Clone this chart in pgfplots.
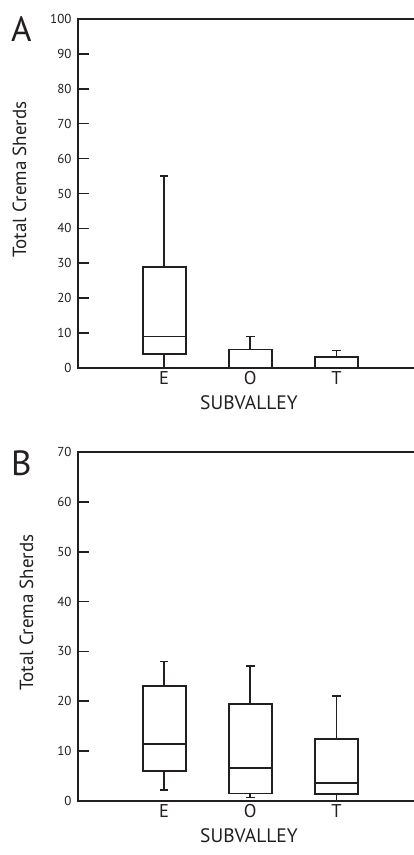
\documentclass[border=0pt]{standalone}
\usepackage{fontspec}
\setmainfont{PT Sans}
\usepackage{pgfplots}
\usepgfplotslibrary{statistics}
\pgfplotsset{compat=1.18}
\definecolor{ink}{RGB}{35,31,32}

\pgfplotsset{
  panel/.style={
    scale only axis, width=336pt, height=349pt,
    anchor=south west,
    xmin=0, xmax=3.9, ymin=0,
    axis line style={draw=none},
    clip=false,
    xtick={1,2,3}, xticklabels={E,O,T},
    xtick pos=bottom, ytick pos=left,
    x tick style={draw=none},
    y tick style={line width=1.6pt, ink},
    major tick length=11pt,
    tick align=inside,
    /pgf/number format/assume math mode=true,
    yticklabel style={font=\fontsize{13}{13}\selectfont, text=ink, xshift=-3pt},
    xticklabel style={font=\fontsize{18.5}{18.5}\selectfont, text=ink},
    xlabel={SUBVALLEY},
    ylabel={Total Crema Sherds},
    xlabel style={font=\fontsize{19.5}{19.5}\selectfont, text=ink, at={(ticklabel cs:0.509,4pt)}},
    ylabel style={font=\fontsize{19}{19}\selectfont, text=ink, at={(ticklabel cs:0.54,17pt)}},
    boxplot/draw direction=y,
    boxplot/box extend=0.5,
    boxplot/whisker extend=0.1,
  },
  bx/.style={ink, line width=1.8pt, solid, mark=none},
}

\begin{document}
\begin{tikzpicture}[x=1pt,y=1pt]
\path[use as bounding box] (0,0) rectangle (414,855);

% panel A
\begin{axis}[panel, at={(78pt,487pt)}, ymax=100, ytick={0,10,...,100}]
  \addplot[bx, boxplot prepared={draw position=1, lower whisker=0, lower quartile=4,
    median=9, upper quartile=29, upper whisker=55}] coordinates {};
  \addplot[bx, boxplot prepared={draw position=2, lower whisker=0, lower quartile=0,
    median=0, upper quartile=5.3, upper whisker=9}] coordinates {};
  \addplot[bx, boxplot prepared={draw position=3, lower whisker=0, lower quartile=0,
    median=0, upper quartile=3.2, upper whisker=5}] coordinates {};
  \draw[ink, line width=2.8pt, line join=miter]
    (rel axis cs:1.02,1) -- (rel axis cs:0,1) -- (rel axis cs:0,0) -- (rel axis cs:1.02,0);
\end{axis}
\node[anchor=north west, inner sep=0pt, text=ink, font=\fontsize{35}{35}\selectfont] at (11,839) {A};

% panel B
\begin{axis}[panel, at={(78pt,54pt)}, ymax=70, ytick={0,10,...,70}]
  \addplot[bx, boxplot prepared={draw position=1, lower whisker=2.2, lower quartile=6,
    median=11.5, upper quartile=23, upper whisker=28}] coordinates {};
  \addplot[bx, boxplot prepared={draw position=2, lower whisker=0.7, lower quartile=1.5,
    median=6.6, upper quartile=19.5, upper whisker=27}] coordinates {};
  \addplot[bx, boxplot prepared={draw position=3, lower whisker=0, lower quartile=1.4,
    median=3.6, upper quartile=12.4, upper whisker=21}] coordinates {};
  \draw[ink, line width=2.8pt, line join=miter]
    (rel axis cs:1.02,1) -- (rel axis cs:0,1) -- (rel axis cs:0,0) -- (rel axis cs:1.02,0);
\end{axis}
\node[anchor=north west, inner sep=0pt, text=ink, font=\fontsize{35}{35}\selectfont] at (11,404) {B};
\end{tikzpicture}
\end{document}
